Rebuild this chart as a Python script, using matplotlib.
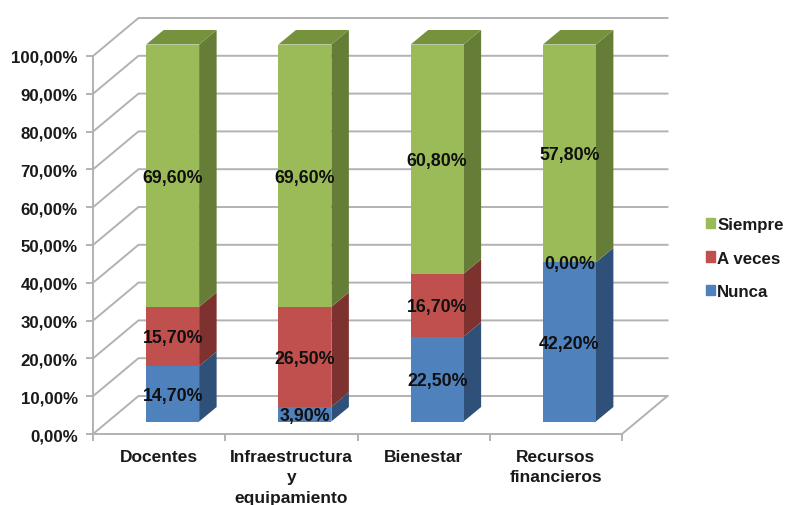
import matplotlib
matplotlib.use("Agg")
import matplotlib.pyplot as plt
import numpy as np
from matplotlib.patches import Patch

categories = ["Docentes", "Infraestructura\ny\nequipamiento", "Bienestar", "Recursos\nfinancieros"]
nunca = [14.7, 3.9, 22.5, 42.2]
a_veces = [15.7, 26.5, 16.7, 0.0]
siempre = [69.6, 69.6, 60.8, 57.8]
series_names = ["Nunca", "A veces", "Siempre"]
yticks = list(range(0, 101, 10))

front = ["#4F81BD", "#C0504D", "#9BBB59"]
side = ["#2F5078", "#7E3230", "#667D38"]
top = ["#3A6090", "#93403D", "#76923C"]
grid = "#B2B2B2"
txt = "#1A1A1A"

W, H = 788, 506
L, R, B, T = 93, 622, 435, 57
plt.rcParams["font.family"] = ["Liberation Sans", "DejaVu Sans"]
plt.rcParams["font.weight"] = "bold"
fig = plt.figure(figsize=(W / 100, H / 100), dpi=100)
ax = fig.add_axes([L / W, 1 - B / H, (R - L) / W, (B - T) / H])
ax.set_xlim(0, 4)
ax.set_ylim(0, 100)
px = 4 / (R - L)
py = 100 / (B - T)

# walls and floor
wx, wy = 45.5 * px, 38 * py
for v in yticks:
    ax.plot([0, wx, 4 + wx], [v, v + wy, v + wy], color=grid, lw=1.4, clip_on=False, zorder=1)
ax.plot([4, 4 + wx], [0, wy], color=grid, lw=1.4, clip_on=False, zorder=1)

# bars
bw = 53 * px
sx, by = 13.5 * px, 12.5 * py
dx, dy = 17.5 * px, 14.5 * py
scale = 377 / 378
base = np.zeros(4)
series = [nunca, a_veces, siempre]
xs = np.arange(4) + 0.5 + sx
for k, vals in enumerate(series):
    vals = np.array(vals)
    ax.bar(xs, vals * scale, bw, bottom=base * scale + by, color=front[k], clip_on=False, zorder=3, linewidth=0)
    for i in range(4):
        if vals[i] <= 0:
            continue
        xr = xs[i] + bw / 2
        y0, y1 = base[i] * scale + by, (base[i] + vals[i]) * scale + by
        ax.fill([xr, xr + dx, xr + dx, xr], [y0, y0 + dy, y1 + dy, y1],
                color=side[k], lw=0, clip_on=False, zorder=2.5)
        if k == 2:
            ax.fill([xr - bw, xr, xr + dx, xr - bw + dx], [y1, y1, y1 + dy, y1 + dy],
                    color=top[k], lw=0, clip_on=False, zorder=2.5)
    for i in range(4):
        ax.text(xs[i], (base[i] + vals[i] / 2) * scale + by - 1.5 * py, f"{vals[i]:.2f}%".replace(".", ","),
                ha="center", va="center", fontsize=12.8, color="#101010", zorder=5)
    base = base + vals

# axes
for s in ["top", "right"]:
    ax.spines[s].set_visible(False)
for s in ["left", "bottom"]:
    ax.spines[s].set_color(grid)
    ax.spines[s].set_linewidth(1.4)
ax.patch.set_alpha(0)
ax.set_yticks(yticks)
ax.set_yticklabels([f"{v},00%" for v in yticks], fontsize=12.2, color=txt)
ax.set_xticks(range(5))
ax.set_xticklabels([])
ax.set_xticks(np.arange(4) + 0.5, minor=True)
ax.set_xticklabels(categories, minor=True, fontsize=12.5, color=txt, linespacing=1.43, va="top")
ax.tick_params(axis="x", which="minor", length=0, pad=11)
ax.tick_params(axis="x", which="major", length=5, color=grid, width=1.4)
ax.tick_params(axis="y", length=5, color=grid, width=1.4, pad=6)

handles = [Patch(color=front[k], label=series_names[k]) for k in (2, 1, 0)]
fig.legend(handles=handles, loc="center left", bbox_to_anchor=(705.5 / W, 1 - 259 / H),
           frameon=False, fontsize=12.2, handlelength=0.55, handleheight=0.55,
           handletextpad=0.15, labelspacing=1.1, borderpad=0, borderaxespad=0, labelcolor=txt)
fig.savefig("out.png", dpi=100)
